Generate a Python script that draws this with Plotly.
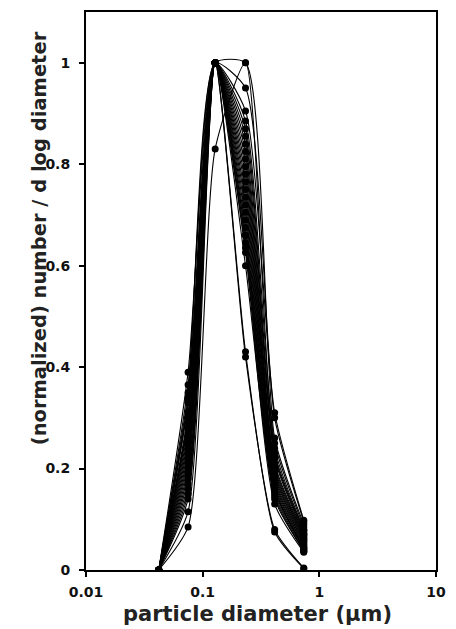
import plotly.graph_objects as go

# bin diameters (µm)
diameters = [0.042, 0.075, 0.128, 0.233, 0.414, 0.736]

# normalized number / dlogD at each bin, one list per sample
y_bin0 = [0.0] * 27
y_bin1 = [0.39, 0.365, 0.35, 0.34, 0.085, 0.33, 0.31, 0.30, 0.29, 0.28, 0.27, 0.26, 0.25,
          0.24, 0.23, 0.22, 0.21, 0.20, 0.19, 0.18, 0.17, 0.16, 0.15, 0.14, 0.115, 0.33, 0.30]
y_bin2 = [1.0, 1.0, 1.0, 1.0, 0.83, 1.0, 1.0, 1.0, 1.0, 1.0, 1.0, 1.0, 1.0,
          1.0, 1.0, 1.0, 1.0, 1.0, 1.0, 1.0, 1.0, 1.0, 1.0, 1.0, 1.0, 1.0, 1.0]
y_bin3 = [0.905, 0.95, 1.0, 0.885, 1.0, 0.87, 0.855, 0.84, 0.825, 0.81, 0.795, 0.78, 0.765,
          0.75, 0.735, 0.72, 0.705, 0.69, 0.675, 0.66, 0.645, 0.635, 0.626, 0.60, 0.66, 0.42, 0.43]
y_bin4 = [0.31, 0.30, 0.26, 0.25, 0.24, 0.23, 0.225, 0.22, 0.21, 0.205, 0.20, 0.195, 0.19,
          0.185, 0.18, 0.175, 0.17, 0.165, 0.16, 0.155, 0.15, 0.14, 0.13, 0.145, 0.16, 0.08, 0.075]
y_bin5 = [0.098, 0.095, 0.09, 0.085, 0.08, 0.078, 0.075, 0.072, 0.07, 0.068, 0.065, 0.063, 0.06,
          0.058, 0.055, 0.053, 0.05, 0.048, 0.045, 0.043, 0.04, 0.038, 0.035, 0.037, 0.042, 0.004, 0.003]

x_tickvals = [0.01, 0.1, 1, 10]
x_ticktext = ["0.01", "0.1", "1", "10"]
y_tickvals = [0, 0.2, 0.4, 0.6, 0.8, 1.0]
y_ticktext = ["0", "0.2", "0.4", "0.6", "0.8", "1"]

fig = go.Figure()
for i in range(len(y_bin1)):
    ys = [y_bin0[i], y_bin1[i], y_bin2[i], y_bin3[i], y_bin4[i], y_bin5[i]]
    fig.add_trace(go.Scatter(
        x=diameters, y=ys, mode="lines+markers",
        line=dict(color="black", width=1.1, shape="spline", smoothing=0.6),
        marker=dict(color="black", size=7),
        showlegend=False, hoverinfo="skip"))

font_family = "DejaVu Sans"
fig.update_layout(
    width=456, height=629,
    margin=dict(l=86, r=10, t=12, b=59),
    paper_bgcolor="white", plot_bgcolor="white",
    xaxis=dict(type="log", range=[-2, 1], tickvals=x_tickvals, ticktext=x_ticktext,
               ticks="outside", ticklen=5, tickwidth=1.5, tickcolor="black",
               showline=True, linecolor="black", linewidth=2, mirror=True,
               showgrid=False, zeroline=False, ticklabelstandoff=3,
               tickfont=dict(family=font_family, size=14, color="#111", weight="bold")),
    yaxis=dict(range=[0, 1.1], tickvals=y_tickvals, ticktext=y_ticktext,
               ticks="outside", ticklen=5, tickwidth=1.5, tickcolor="black",
               showline=True, linecolor="black", linewidth=2, mirror=True,
               showgrid=False, zeroline=False, ticklabelstandoff=6,
               tickfont=dict(family=font_family, size=14, color="#111", weight="bold")),
    annotations=[
        dict(text="particle diameter (µm)", xref="paper", yref="paper",
             x=0.489, y=-0.079, xanchor="center", yanchor="middle", showarrow=False,
             font=dict(family=font_family, size=21, color="#222", weight="bold")),
        dict(text="(normalized) number / d log diameter", xref="paper", yref="paper",
             x=-0.1306, y=0.595, xanchor="center", yanchor="middle", showarrow=False,
             textangle=-90,
             font=dict(family=font_family, size=19.5, color="#222", weight="bold")),
    ],
)

fig.write_html("out.html")
